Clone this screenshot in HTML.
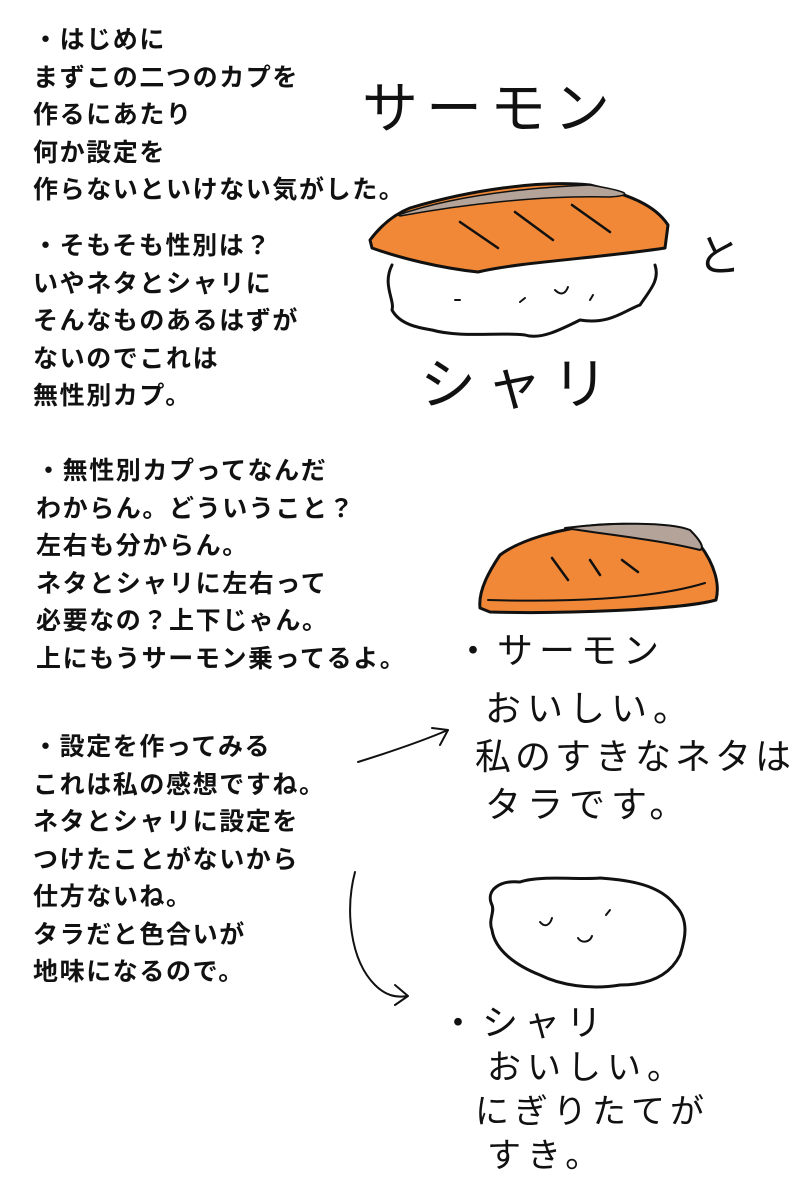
<!DOCTYPE html>
<html><head><meta charset="utf-8"><style>
body{margin:0;width:800px;height:1200px;background:#fff;position:relative;overflow:hidden;font-family:"Liberation Sans","Noto Sans CJK JP",sans-serif}
.t{position:absolute;left:33px;font-size:25px;font-weight:bold;line-height:37.5px;color:#111;white-space:nowrap;letter-spacing:1.6px}
.h{position:absolute;font-family:"Liberation Sans","Noto Sans CJK JP",sans-serif;font-weight:normal;color:#111;white-space:nowrap}
svg{position:absolute;left:0;top:0}
</style></head><body>
<div class="t" style="top:22px">・はじめに<br>まずこの二つのカプを<br>作るにあたり<br>何か設定を<br>作らないといけない気がした。</div>
<div class="t" style="top:228px">・そもそも性別は？<br>いやネタとシャリに<br>そんなものあるはずが<br>ないのでこれは<br>無性別カプ。</div>
<div class="t" style="top:453px;left:36px">・無性別カプってなんだ<br>わからん。どういうこと？<br>左右も分からん。<br>ネタとシャリに左右って<br>必要なの？上下じゃん。<br>上にもうサーモン乗ってるよ。</div>
<div class="t" style="top:729px">・設定を作ってみる<br>これは私の感想ですね。<br>ネタとシャリに設定を<br>つけたことがないから<br>仕方ないね。<br>タラだと色合いが<br>地味になるので。</div>

<div class="h" style="left:362px;top:64px;font-size:56px;letter-spacing:8px">サーモン</div>
<div class="h" style="left:697px;top:220px;font-size:44px">と</div>
<div class="h" style="left:420px;top:340px;font-size:56px;letter-spacing:10px">シャリ</div>

<div class="h" style="left:455px;top:622px;font-size:36px;letter-spacing:6px">・サーモン</div>
<div class="h" style="left:485px;top:680px;font-size:36px;letter-spacing:6px">おいしい。</div>
<div class="h" style="left:475px;top:728px;font-size:36px;letter-spacing:4px">私のすきなネタは</div>
<div class="h" style="left:485px;top:776px;font-size:36px;letter-spacing:6px">タラです。</div>

<div class="h" style="left:440px;top:994px;font-size:36px;letter-spacing:6px">・シャリ</div>
<div class="h" style="left:487px;top:1040px;font-size:34px;letter-spacing:6px">おいしい。</div>
<div class="h" style="left:475px;top:1084px;font-size:34px;letter-spacing:5px">にぎりたてが</div>
<div class="h" style="left:487px;top:1128px;font-size:34px;letter-spacing:6px">すき。</div>

<svg width="800" height="1200" viewBox="0 0 800 1200">
<g stroke="#111" stroke-width="3" stroke-linejoin="round" stroke-linecap="round">
<path d="M392 265 C382 285 395 300 392 310 C400 325 420 328 432 330 C460 338 500 332 525 335 C540 340 560 330 580 320 C610 325 625 310 640 305 C650 290 660 280 655 265" fill="#fff"/>
<path d="M370 240 C385 220 400 212 410 208 C470 190 540 180 590 185 C630 195 655 205 668 225 L665 248 C600 258 520 262 478 272 C440 268 400 258 372 248 Z" fill="#f08837"/>
<path d="M398 215 C450 197 520 188 590 185 C620 190 640 195 610 197 C540 195 460 205 400 216 Z" fill="#b3a398" stroke-width="1.5"/>
<path d="M460 222 L498 248 M515 212 L553 240 M572 205 L610 232" fill="none" stroke-width="2.5"/>
<path d="M455 300 L460 300 M520 302 L525 298 M555 290 C560 295 565 295 568 287 M590 300 L593 295" fill="none" stroke-width="2"/>
<path d="M480 608 C478 590 490 570 500 555 C520 540 560 528 600 525 C650 522 685 528 700 545 C715 565 720 585 716 600 C680 610 560 614 490 612 Z" fill="#f08837"/>
<path d="M565 528 C610 522 670 522 690 530 C700 540 705 548 700 550 C660 540 610 535 565 528 Z" fill="#b3a398" stroke-width="2"/>
<path d="M488 600 C560 602 650 600 705 583" fill="none" stroke-width="2"/>
<path d="M552 558 L568 580 M590 560 L600 575 M622 560 L638 572" fill="none" stroke-width="2.5"/>
<path d="M492 905 C485 890 500 880 520 882 C540 875 580 880 600 878 C630 880 660 885 675 905 C690 920 685 940 680 955 C670 975 650 985 620 985 C590 990 560 985 540 975 C515 965 495 950 492 930 C488 920 495 912 492 905 Z" fill="#fff"/>
<path d="M540 922 C545 928 550 925 552 918 M578 938 C582 944 590 942 592 936 M606 915 L610 910" fill="none" stroke-width="2"/>
<path d="M358 762 C390 752 420 742 448 730 M432 728 L448 730 L440 745" fill="none" stroke-width="2"/>
<path d="M355 872 C345 910 350 960 375 985 C385 995 395 998 408 996 M395 985 L408 996 L395 1005" fill="none" stroke-width="2"/>
</g>
</svg>
</body></html>
